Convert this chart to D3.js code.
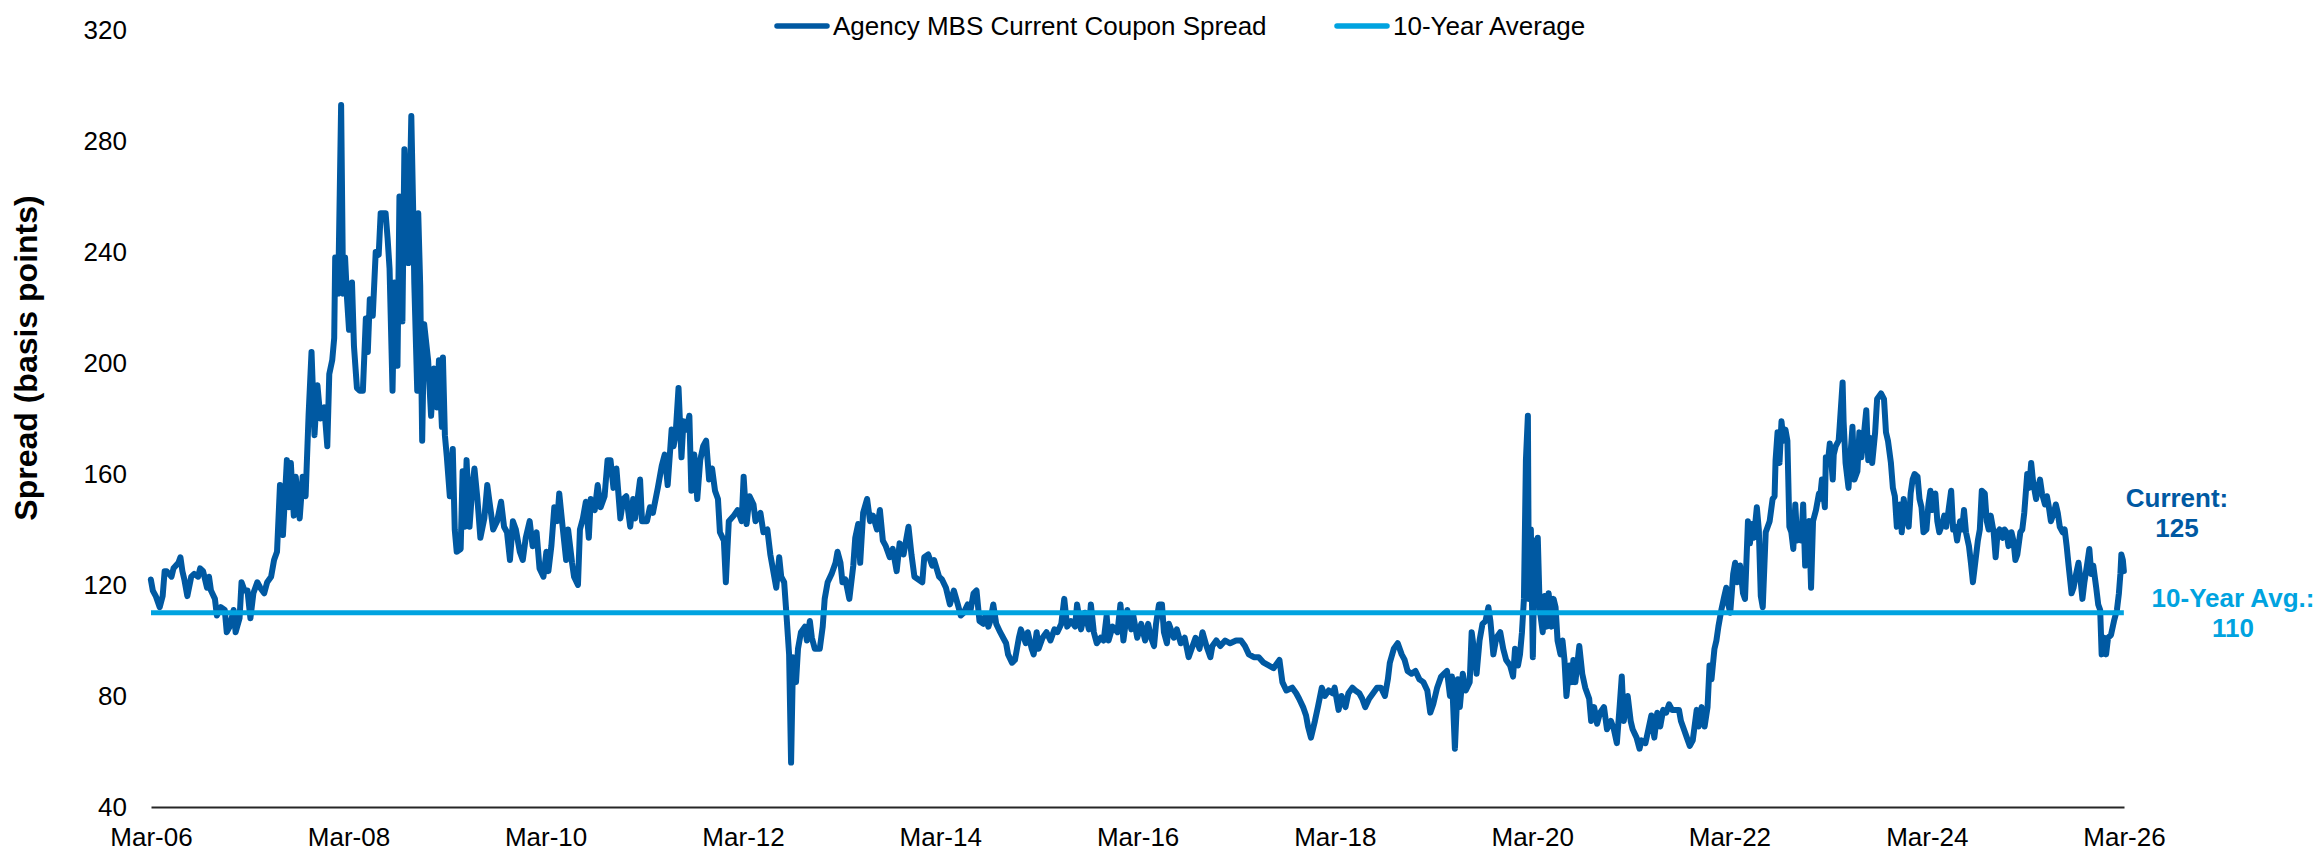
<!DOCTYPE html>
<html>
<head>
<meta charset="utf-8">
<script src="https://cdn.jsdelivr.net/npm/d3@7"></script>
<style>
  body { margin: 0; background: #fff; }
  svg { display: block; font-family: "Liberation Sans", Arial, sans-serif; }
</style>
</head>
<body>
<div id="chart"></div>
<script>
// spread readings, [decimal year, basis points]
const spread2006 = [
  [2006.16,122],[2006.18,118],[2006.21,116],[2006.25,112],[2006.28,116],[2006.30,125],[2006.32,125],[2006.37,123],[2006.39,126],[2006.44,128],
  [2006.46,130],[2006.48,125],[2006.50,122],[2006.53,116],[2006.57,123],[2006.60,124],[2006.64,123],[2006.66,126],[2006.69,125],[2006.73,119],
  [2006.75,123],[2006.77,118],[2006.81,115],[2006.83,109],[2006.87,112],[2006.91,111],[2006.93,103],[2006.96,105],[2007.00,111],[2007.02,103],
  [2007.06,108],[2007.08,121],[2007.11,118],[2007.14,118],[2007.17,108],[2007.20,117],[2007.24,121],[2007.27,119],[2007.31,117],[2007.34,121],
  [2007.38,123],[2007.41,129],[2007.44,132],[2007.47,156],[2007.50,138],[2007.54,165],[2007.56,148],[2007.58,164],[2007.61,145],[2007.63,159],
  [2007.67,144],[2007.70,159],[2007.73,152],[2007.76,181],[2007.79,204],[2007.82,174],[2007.85,192],[2007.88,180],[2007.92,184],[2007.95,170],
  [2007.97,196],[2008.00,201],[2008.02,209],[2008.03,238],[2008.06,225],[2008.09,293],[2008.11,225],[2008.13,238],[2008.15,223],[2008.17,212],
  [2008.20,229],[2008.22,206],[2008.25,191],[2008.28,190],[2008.31,190],[2008.34,216],[2008.36,204],[2008.38,223],[2008.41,217],[2008.44,240],
  [2008.47,239],[2008.49,254],[2008.54,254],[2008.56,245],[2008.58,234],[2008.61,190],[2008.63,229],[2008.66,199],[2008.68,260],[2008.71,215],
  [2008.73,277],[2008.77,236],[2008.80,289],[2008.82,253],[2008.83,229],[2008.86,190],[2008.87,254],[2008.89,228],[2008.91,172],[2008.93,214],
  [2008.97,201],[2009.00,181],[2009.03,198],[2009.06,184],[2009.08,201],[2009.11,177],[2009.12,202],[2009.14,174],[2009.16,166],[2009.19,152],
  [2009.22,169],[2009.24,140],[2009.26,132],[2009.30,133],[2009.32,161],[2009.34,141],[2009.36,165],[2009.39,141],[2009.42,156],[2009.44,162],
  [2009.47,151],[2009.50,137],[2009.54,144],[2009.57,156],[2009.60,148],[2009.63,140],[2009.67,143],[2009.71,150],[2009.74,141],[2009.77,139],
  [2009.80,129],[2009.83,143],[2009.86,140],[2009.90,132],[2009.93,129],[2009.96,137],[2010.00,143],[2010.03,134],[2010.07,139],[2010.10,126],
  [2010.14,123],[2010.17,132],[2010.19,125],[2010.22,134],[2010.25,148],[2010.28,143],[2010.30,153],[2010.34,139],[2010.37,129],[2010.39,140],
  [2010.43,128],[2010.45,123],[2010.49,120],[2010.51,140],[2010.54,144],[2010.57,150],[2010.60,137],[2010.62,151],[2010.66,147],[2010.69,156],
  [2010.72,148],[2010.76,152],[2010.79,165],[2010.82,165],[2010.85,155],[2010.88,162],[2010.92,144],[2010.95,151],[2010.98,152],[2011.02,141],
  [2011.05,151],[2011.07,144],[2011.12,158],[2011.14,143],[2011.19,143],[2011.22,148],[2011.25,146],[2011.30,155],[2011.34,163],[2011.37,167],
  [2011.40,156],[2011.44,176],[2011.46,170],[2011.48,174],[2011.51,191],[2011.54,166],[2011.56,179],[2011.59,176],[2011.62,181],[2011.64,154],
  [2011.67,167],[2011.70,151],[2011.73,165],[2011.76,170],[2011.79,172],[2011.82,158],[2011.85,162],[2011.88,154],[2011.91,151],[2011.93,139],
  [2011.97,136],[2011.99,121],[2012.02,143],[2012.07,145],[2012.11,147],[2012.15,143],[2012.17,159]
];

const spread2012 = [
  [2012.20,142],[2012.23,152],[2012.27,149],[2012.29,143],[2012.34,146],[2012.37,139],[2012.41,140],[2012.44,131],[2012.48,123],[2012.50,119],
  [2012.53,130],[2012.55,123],[2012.58,121],[2012.60,111],[2012.63,95],[2012.65,56],[2012.67,94],[2012.70,85],[2012.72,97],[2012.75,103],
  [2012.79,105],[2012.81,100],[2012.84,107],[2012.86,101],[2012.89,97],[2012.94,97],[2012.97,105],[2012.99,115],[2013.02,121],[2013.06,124],
  [2013.10,128],[2013.12,132],[2013.15,128],[2013.17,121],[2013.20,122],[2013.24,115],[2013.28,127],[2013.30,137],[2013.33,142],[2013.35,128],
  [2013.38,146],[2013.42,151],[2013.45,143],[2013.48,145],[2013.52,140],[2013.55,147],[2013.58,136],[2013.61,134],[2013.65,130],[2013.68,133],
  [2013.72,125],[2013.75,135],[2013.79,131],[2013.84,141],[2013.87,131],[2013.90,123],[2013.94,122],[2013.98,121],[2014.00,130],[2014.04,131],
  [2014.08,127],[2014.10,129],[2014.15,123],[2014.18,122],[2014.22,119],[2014.26,113],[2014.30,118],[2014.34,113],[2014.37,109],[2014.40,110],
  [2014.44,113],[2014.47,111],[2014.50,117],[2014.53,118],[2014.56,107],[2014.60,106],[2014.62,109],[2014.65,105],[2014.67,107],[2014.70,113],
  [2014.73,106],[2014.77,103],[2014.80,101],[2014.83,99],[2014.85,95],[2014.89,92],[2014.92,93],[2014.96,101],[2014.98,104],[2015.03,99],
  [2015.05,103],[2015.09,97],[2015.11,95],[2015.14,103],[2015.16,97],[2015.20,101],[2015.24,103],[2015.28,100],[2015.32,104],[2015.35,103],
  [2015.39,106],[2015.42,115],[2015.45,105],[2015.49,107],[2015.53,105],[2015.55,113],[2015.59,104],[2015.63,110],[2015.67,104],[2015.69,113],
  [2015.72,103],[2015.75,99],[2015.79,101],[2015.82,100],[2015.85,109],[2015.87,100],[2015.91,105],[2015.96,103],[2015.99,113],[2016.02,100],
  [2016.06,111],[2016.10,104],[2016.12,109],[2016.16,101],[2016.20,106],[2016.24,100],[2016.27,106],[2016.30,101],[2016.33,98],[2016.35,106],
  [2016.38,113],[2016.41,113],[2016.43,103],[2016.46,99],[2016.48,106],[2016.53,101],[2016.56,104],[2016.60,99],[2016.64,101],[2016.68,94],
  [2016.72,98],[2016.75,101],[2016.79,97],[2016.82,103],[2016.86,98],[2016.90,94],[2016.92,98],[2016.96,100],[2017.00,98],[2017.05,100],
  [2017.10,99],[2017.16,100],[2017.21,100],[2017.25,98],[2017.29,95],[2017.34,94],[2017.39,94],[2017.44,92],[2017.49,91],[2017.54,90],
  [2017.60,93],[2017.63,85],[2017.67,82],[2017.73,83],[2017.77,81],[2017.80,79],[2017.84,76],[2017.87,73],[2017.89,69],[2017.92,65],
  [2017.96,71],[2017.99,76],[2018.03,83],[2018.06,80],[2018.10,82],[2018.14,81],[2018.16,83],[2018.20,75],[2018.23,80],[2018.27,76],
  [2018.30,81],[2018.34,83],[2018.37,82],[2018.41,81],[2018.44,79],[2018.47,76],[2018.51,79],[2018.55,81],[2018.59,83],[2018.63,83],
  [2018.67,80],[2018.70,86],[2018.72,92],[2018.76,97],[2018.80,99],[2018.84,95],[2018.87,93],[2018.90,89],[2018.94,88],[2018.98,89],
  [2019.02,86],[2019.06,85],[2019.10,82],[2019.13,74],[2019.16,77],[2019.20,83],[2019.24,87],[2019.27,88],[2019.30,89],[2019.33,80],
  [2019.35,87],[2019.38,61],[2019.41,86],[2019.43,76],[2019.46,88],[2019.49,82],[2019.53,85],[2019.55,103],[2019.58,95],[2019.60,88],
  [2019.63,100],[2019.66,106],[2019.69,107],[2019.72,112],[2019.74,107],[2019.77,95],[2019.80,101],[2019.84,103]
];

const spread2020 = [
  [2019.87,97],[2019.90,93],[2019.94,91],[2019.97,87],[2019.99,97],[2020.02,91],[2020.04,95],[2020.06,103],[2020.08,115],[2020.10,165],
  [2020.12,181],[2020.13,115],[2020.15,140],[2020.17,94],[2020.19,136],[2020.21,115],[2020.22,137],[2020.24,111],[2020.27,103],[2020.29,116],
  [2020.31,105],[2020.33,117],[2020.36,105],[2020.38,115],[2020.40,112],[2020.42,100],[2020.45,95],[2020.47,100],[2020.49,93],[2020.51,80],
  [2020.54,91],[2020.56,85],[2020.58,93],[2020.60,85],[2020.64,98],[2020.67,88],[2020.70,83],[2020.74,79],[2020.76,71],[2020.79,76],
  [2020.82,70],[2020.85,74],[2020.89,76],[2020.92,68],[2020.96,71],[2020.99,68],[2021.02,63],[2021.05,77],[2021.07,87],[2021.09,71],
  [2021.13,80],[2021.16,71],[2021.18,68],[2021.22,65],[2021.25,61],[2021.27,64],[2021.31,63],[2021.34,68],[2021.37,73],[2021.40,65],
  [2021.43,74],[2021.46,69],[2021.49,75],[2021.52,74],[2021.55,77],[2021.58,75],[2021.61,75],[2021.65,75],[2021.67,71],[2021.70,68],
  [2021.73,65],[2021.76,62],[2021.79,64],[2021.83,75],[2021.85,69],[2021.88,76],[2021.91,69],[2021.94,76],[2021.96,91],[2021.98,86],
  [2022.01,97],[2022.03,100],[2022.05,105],[2022.08,111],[2022.11,116],[2022.13,119],[2022.15,113],[2022.17,110],[2022.20,124],[2022.22,128],
  [2022.24,121],[2022.27,127],[2022.30,117],[2022.32,115],[2022.35,143],[2022.37,135],[2022.39,142],[2022.41,137],[2022.44,148],[2022.46,140],
  [2022.48,116],[2022.50,112],[2022.53,139],[2022.55,141],[2022.57,143],[2022.60,151],[2022.62,152],[2022.63,165],[2022.65,175],[2022.67,164],
  [2022.69,179],[2022.71,172],[2022.73,176],[2022.75,172],[2022.77,141],[2022.79,139],[2022.81,133],[2022.83,149],[2022.85,136],[2022.87,141],
  [2022.89,136],[2022.91,149],[2022.93,127],[2022.95,141],[2022.97,143],[2022.99,119],[2023.01,143],[2023.04,147],[2023.07,153],[2023.08,151],
  [2023.10,158],[2023.13,148],[2023.14,166],[2023.16,164],[2023.18,171],[2023.21,158],[2023.22,167],[2023.24,170],[2023.27,172],[2023.28,177],
  [2023.31,193],[2023.32,179],[2023.34,164],[2023.37,155],[2023.39,167],[2023.41,177],[2023.43,158],[2023.46,161],[2023.48,175],[2023.50,166],
  [2023.52,172],[2023.55,183],[2023.57,165],[2023.59,173],[2023.61,164],[2023.64,175],[2023.66,187],[2023.68,188],[2023.70,189],[2023.73,187],
  [2023.75,175],[2023.77,172],[2023.80,164],[2023.82,155],[2023.84,152],[2023.86,141],[2023.89,149],[2023.91,139],[2023.93,151],[2023.95,145],
  [2023.98,141],[2024.00,153],[2024.02,158],[2024.04,160],[2024.07,159],[2024.09,151],[2024.11,148],[2024.13,139],[2024.16,140],[2024.18,149],
  [2024.20,154],[2024.22,147],[2024.25,153],[2024.27,143],[2024.29,139],[2024.32,142],[2024.34,145],[2024.36,141],[2024.38,146],[2024.41,154],
  [2024.43,140],[2024.45,141],[2024.47,136],[2024.50,143],[2024.52,140],[2024.54,147],[2024.56,139],[2024.59,134],[2024.61,128],[2024.63,121],
  [2024.65,127],[2024.68,136],[2024.70,140],[2024.72,154],[2024.75,153],[2024.77,143],[2024.79,140],[2024.81,145],[2024.84,139],[2024.86,130],
  [2024.88,139],[2024.90,140],[2024.93,137],[2024.95,140],[2024.97,139],[2024.99,134],[2025.02,139],[2025.04,136],[2025.06,129],[2025.08,131],
  [2025.11,139],[2025.13,140],[2025.15,146],[2025.18,160],[2025.20,155],[2025.22,164],[2025.24,157],[2025.27,151],[2025.29,155],[2025.31,158],
  [2025.33,153],[2025.36,149],[2025.38,152],[2025.40,148],[2025.42,143],[2025.45,146],[2025.47,149],[2025.49,146],[2025.51,141],[2025.54,139],
  [2025.56,140],[2025.58,134],[2025.60,127],[2025.63,117],[2025.65,119],[2025.67,123],[2025.70,128],[2025.72,122],[2025.74,115],[2025.76,121],
  [2025.79,128],[2025.81,133],[2025.83,124],[2025.85,127],[2025.88,119],[2025.90,113],[2025.92,111],[2025.935,95],[2025.96,101],[2025.98,95],
  [2026.00,101],[2026.03,102],[2026.06,107],[2026.09,111],[2026.11,117],[2026.125,124],[2026.135,131],[2026.15,129],[2026.16,125]
];

const tenYearAvg = 110;
const currentValue = 125;
const yTicks = [40, 80, 120, 160, 200, 240, 280, 320];
const tickYears = [2006, 2008, 2010, 2012, 2014, 2016, 2018, 2020, 2022, 2024, 2026];
const seriesNames = ["Agency MBS Current Coupon Spread", "10-Year Average"];

const width = 2317, height = 851;
const darkBlue = "#0059a2", lightBlue = "#00a3e0";

// decimal year -> Date
function toDate(y) {
  const yr = Math.floor(y);
  const a = new Date(yr, 0, 1), b = new Date(yr + 1, 0, 1);
  return new Date(+a + (y - yr) * (b - a));
}

const data = spread2006.concat(spread2012, spread2020).map(d => ({ date: toDate(d[0]), value: d[1] }));

const svg = d3.select("#chart").append("svg")
  .attr("width", width)
  .attr("height", height);

const x = d3.scaleTime()
  .domain([new Date(2006, 2, 1), new Date(2026, 2, 1)])
  .range([151, 2124]);

const y = d3.scaleLinear()
  .domain([40, 320])
  .range([807, 30]);

// y axis (labels only)
const yAxis = svg.append("g")
  .attr("transform", "translate(151,0)")
  .call(d3.axisLeft(y).tickValues(yTicks).tickSize(0).tickPadding(24));
yAxis.select(".domain").remove();
yAxis.selectAll("text")
  .attr("font-size", 26)
  .attr("font-family", "'Liberation Sans', Arial, sans-serif")
  .attr("fill", "#000");

// x axis
const xAxis = svg.append("g")
  .attr("transform", "translate(0,807)")
  .call(d3.axisBottom(x)
    .tickValues(tickYears.map(yr => new Date(yr, 2, 1)))
    .tickFormat(d3.timeFormat("%b-%y"))
    .tickSize(0)
    .tickSizeOuter(0)
    .tickPadding(21));
xAxis.select(".domain").attr("stroke", "#262626").attr("stroke-width", 2);
xAxis.selectAll("text")
  .attr("font-size", 26)
  .attr("font-family", "'Liberation Sans', Arial, sans-serif")
  .attr("fill", "#000");

// y axis title
svg.append("text")
  .attr("transform", "translate(37,358) rotate(-90)")
  .attr("text-anchor", "middle")
  .attr("font-size", 32)
  .attr("font-weight", "bold")
  .attr("fill", "#000")
  .text("Spread (basis points)");

// spread line
const line = d3.line()
  .x(d => x(d.date))
  .y(d => y(d.value));

svg.append("path")
  .datum(data)
  .attr("fill", "none")
  .attr("stroke", darkBlue)
  .attr("stroke-width", 6)
  .attr("stroke-linejoin", "round")
  .attr("stroke-linecap", "round")
  .attr("d", line);

// 10-year average, drawn over the spread
svg.append("line")
  .attr("x1", x(new Date(2006, 2, 1)))
  .attr("x2", x(toDate(2026.16)))
  .attr("y1", y(tenYearAvg))
  .attr("y2", y(tenYearAvg))
  .attr("stroke", lightBlue)
  .attr("stroke-width", 5);

// legend
const legendItems = [
  { name: seriesNames[0], color: darkBlue, x: 777 },
  { name: seriesNames[1], color: lightBlue, x: 1337 }
];
const legend = svg.append("g").selectAll("g")
  .data(legendItems)
  .enter().append("g")
  .attr("transform", d => "translate(" + d.x + ",26)");
legend.append("line")
  .attr("x1", 0).attr("x2", 50)
  .attr("stroke", d => d.color)
  .attr("stroke-width", 5.5)
  .attr("stroke-linecap", "round");
legend.append("text")
  .attr("x", 56)
  .attr("y", 9)
  .attr("font-size", 26)
  .attr("fill", "#000")
  .text(d => d.name);

// annotations
const notes = [
  { lines: ["Current:", String(currentValue)], color: darkBlue, cx: 2177, y0: 507 },
  { lines: ["10-Year Avg.:", String(tenYearAvg)], color: lightBlue, cx: 2233, y0: 607 }
];
notes.forEach(n => {
  n.lines.forEach((t, i) => {
    svg.append("text")
      .attr("x", n.cx)
      .attr("y", n.y0 + i * 30)
      .attr("text-anchor", "middle")
      .attr("font-size", 26)
      .attr("font-weight", "bold")
      .attr("fill", n.color)
      .text(t);
  });
});
</script>
</body>
</html>
